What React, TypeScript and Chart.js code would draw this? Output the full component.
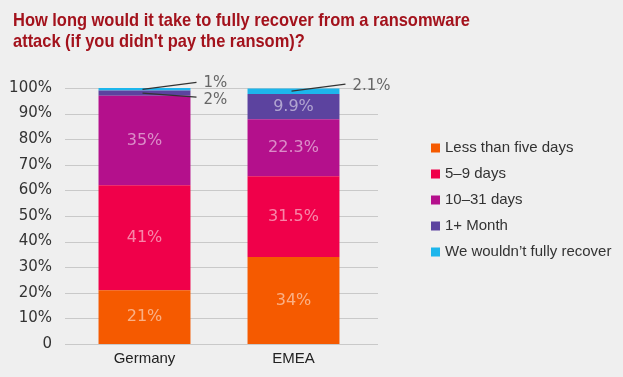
import React, { useEffect, useRef } from "react";
import { Chart, registerables } from "chart.js";

Chart.register(...registerables);

const titleLines = [
  "How long would it take to fully recover from a ransomware",
  "attack (if you didn't pay the ransom)?",
];
const categories = ["Germany", "EMEA"];
const seriesNames = [
  "Less than five days",
  "5–9 days",
  "10–31 days",
  "1+ Month",
  "We wouldn’t fully recover",
];
const lessThanFiveDays = [21, 34];
const fiveToNineDays = [41, 31.5];
const tenTo31Days = [35, 22.3];
const onePlusMonth = [2, 9.9];
const wouldntRecover = [1, 2.1];
const yTickValues = [0, 10, 20, 30, 40, 50, 60, 70, 80, 90, 100];
const yTickLabels = ["0", "10%", "20%", "30%", "40%", "50%", "60%", "70%", "80%", "90%", "100%"];

const seriesValues = [lessThanFiveDays, fiveToNineDays, tenTo31Days, onePlusMonth, wouldntRecover];
const seriesColors = ["#f55a00", "#f0004a", "#b4108c", "#5c439f", "#1db6ec"];

// leader-line callouts for thin segments: key "dataset-index" -> vertical offsets (style only)
const callouts: Record<string, { lineDy: number; textDy: number }> = {
  "4-0": { lineDy: -7, textDy: 1 },
  "3-0": { lineDy: 4, textDy: 3 },
  "4-1": { lineDy: -7, textDy: 2 },
};

const NUM_FONT = "'DejaVu Sans', sans-serif";
const TXT_FONT = "'Liberation Sans', Arial, sans-serif";

const bgPlugin = {
  id: "bg",
  beforeDraw(chart: any) {
    const { ctx, width, height } = chart;
    ctx.save();
    ctx.fillStyle = "#efefef";
    ctx.fillRect(0, 0, width, height);
    ctx.restore();
  },
};

const gridPlugin = {
  id: "customGrid",
  beforeDatasetsDraw(chart: any) {
    const { ctx, chartArea } = chart;
    const y = chart.scales.y;
    ctx.save();
    ctx.strokeStyle = "#c9c9c9";
    ctx.lineWidth = 1;
    yTickValues.forEach((v) => {
      const py = Math.round(y.getPixelForValue(v)) + 0.5;
      ctx.beginPath();
      ctx.moveTo(chartArea.left - 5, py);
      ctx.lineTo(chartArea.right + 10, py);
      ctx.stroke();
    });
    ctx.restore();
  },
};

const titlePlugin = {
  id: "customTitle",
  afterDraw(chart: any) {
    const { ctx } = chart;
    ctx.save();
    ctx.fillStyle = "#a3121c";
    ctx.font = "bold 19px 'Liberation Sans', Arial, sans-serif";
    ctx.textAlign = "left";
    ctx.textBaseline = "alphabetic";
    const w = ctx.measureText(titleLines[0]).width;
    const sx = 457 / w;
    ctx.translate(13, 0);
    ctx.scale(sx, 1);
    titleLines.forEach((t, i) => ctx.fillText(t, 0, 26 + i * 21));
    ctx.restore();
  },
};

const labelPlugin = {
  id: "segLabels",
  afterDatasetsDraw(chart: any) {
    const { ctx } = chart;
    ctx.save();
    chart.data.datasets.forEach((ds: any, di: number) => {
      const meta = chart.getDatasetMeta(di);
      meta.data.forEach((bar: any, i: number) => {
        const v = ds.data[i];
        const text = `${v}%`;
        const cy = (bar.y + bar.base) / 2;
        const c = callouts[`${di}-${i}`];
        if (c) {
          const half = bar.width / 2;
          const sx = bar.x - 2;
          const ex = bar.x + half + 6;
          const ey = cy + c.lineDy;
          ctx.strokeStyle = "#333";
          ctx.lineWidth = 1.2;
          ctx.beginPath();
          ctx.moveTo(sx, cy);
          ctx.lineTo(ex, ey);
          ctx.stroke();
          ctx.fillStyle = "#666";
          ctx.font = `15px ${NUM_FONT}`;
          ctx.textAlign = "left";
          ctx.textBaseline = "middle";
          ctx.fillText(text, ex + 7, ey + c.textDy);
        } else {
          ctx.fillStyle = "rgba(255,255,255,0.52)";
          ctx.font = `16px ${NUM_FONT}`;
          ctx.textAlign = "center";
          ctx.textBaseline = "middle";
          ctx.fillText(text, bar.x, cy);
        }
      });
    });
    ctx.restore();
  },
};

const legendPlugin = {
  id: "customLegend",
  afterDraw(chart: any) {
    const { ctx, chartArea } = chart;
    const x0 = chartArea.right + 63;
    const y0 = 148;
    ctx.save();
    ctx.font = `15px ${TXT_FONT}`;
    ctx.textAlign = "left";
    ctx.textBaseline = "middle";
    seriesNames.forEach((name, i) => {
      const y = y0 + i * 26;
      ctx.fillStyle = seriesColors[i];
      ctx.fillRect(x0, y - 4.5, 9, 9);
      ctx.fillStyle = "#333";
      ctx.fillText(name, x0 + 14, y);
    });
    ctx.restore();
  },
};

export default function App() {
  const ref = useRef<HTMLCanvasElement>(null);
  useEffect(() => {
    if (!ref.current) return;
    const chart = new Chart(ref.current, {
      type: "bar",
      data: {
        labels: categories,
        datasets: seriesNames.map((name, i) => ({
          label: name,
          data: seriesValues[i],
          backgroundColor: seriesColors[i],
          borderWidth: 0,
          barPercentage: 0.617,
          categoryPercentage: 1,
        })),
      },
      options: {
        responsive: false,
        animation: false,
        layout: { padding: { left: 0, right: 255, top: 88, bottom: 0 } },
        plugins: {
          legend: { display: false },
          title: { display: false },
          tooltip: { enabled: false },
        },
        scales: {
          x: {
            stacked: true,
            grid: { display: false, drawTicks: false },
            border: { display: false },
            ticks: {
              color: "#222",
              font: { family: TXT_FONT, size: 15 },
              padding: 6,
            },
            afterFit(scale: any) {
              scale.height = 33;
            },
          },
          y: {
            stacked: true,
            min: 0,
            max: 100,
            grid: { display: false, drawTicks: false },
            border: { display: false },
            afterBuildTicks(scale: any) {
              scale.ticks = yTickValues.map((v) => ({ value: v }));
            },
            ticks: {
              color: "#333",
              font: { family: NUM_FONT, size: 15 },
              padding: 18,
              callback: (v: any) => yTickLabels[yTickValues.indexOf(Number(v))],
            },
            afterFit(scale: any) {
              scale.width = 70;
            },
          },
        },
      },
      plugins: [bgPlugin, gridPlugin, labelPlugin, legendPlugin, titlePlugin],
    });
    return () => chart.destroy();
  }, []);
  return (
    <div style={{ position: "fixed", left: 0, top: 0, width: 623, height: 377, background: "#efefef" }}>
      <canvas ref={ref} width={623} height={377} style={{ display: "block" }} />
    </div>
  );
}
